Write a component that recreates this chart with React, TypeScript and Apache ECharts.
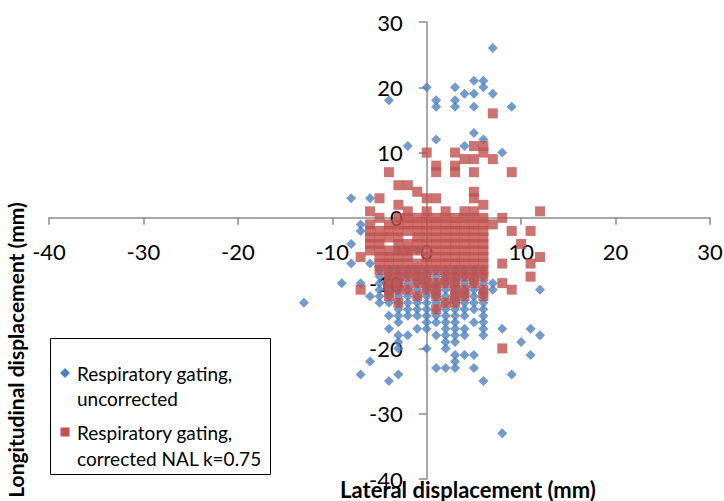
import React, { useEffect, useRef } from "react";
import * as echarts from "echarts";

// ---------- data ----------
const xTicks = [-40, -30, -20, -10, 0, 10, 20, 30];
const yTicks = [-40, -30, -20, -10, 0, 10, 20, 30];

const seriesNames = [
  "Respiratory gating,\nuncorrected",
  "Respiratory gating,\ncorrected NAL k=0.75",
];

// scattered points and rows of the dense core: [y, xs]
const uncorrectedOutliers: [number, number][] = [
  [7, 26], [0, 20], [3, 20], [5, 21], [6, 21], [4, 19], [5, 19], [6, 20], [7, 19],
  [1, 18], [1, 17], [3, 18], [3, 17], [5, 17], [9, 17], [-4, 18], [5, 13], [1, 12],
  [6, 12], [4, 11], [-2, 11], [8, 10], [-8, 3], [-6, 3],
  [-7, -1], [-7, -2], [-8, -4], [-8, -7], [-6, -7], [-9, -10], [-7, -10], [-6, -12],
  [-5, -12], [-13, -13], [-3, -5], [-2, -5], [-1, -5],
];
const uncorrectedRows: [number, number[]][] = [
  [-8, [-5, -4, -3, -2, -1, 0, 1, 2, 3, 4, 5, 6]],
  [-9, [-5, -4, -3, -2, -1, 0, 1, 2, 3, 4, 5, 6]],
  [-10, [-5, -4, -3, -2, -1, 0, 1, 2, 3, 4, 5, 6, 7]],
  [-11, [-5, -4, -3, -2, -1, 0, 1, 2, 3, 4, 5, 6, 7, 12]],
  [-12, [-4, -3, -2, -1, 0, 1, 2, 3, 4, 5, 6]],
  [-13, [-5, -4, -3, -2, -1, 0, 1, 2, 3, 4, 5, 6]],
  [-14, [-3, -2, -1, 0, 1, 2, 3, 4, 5, 6]],
  [-15, [-4, -3, -2, -1, 0, 1, 2, 3, 4, 6]],
  [-16, [-3, 0, 1, 2, 3, 5, 6]],
  [-17, [-4, -1, 0, 2, 3, 4, 6, 8, 11]],
  [-18, [-3, -2, 1, 2, 3, 4, 6, 12]],
  [-19, [-3, 2, 3, 10]],
  [-20, [-3, 0, 2]],
  [-21, [3, 4, 5, 11]],
  [-22, [-6, 3]],
  [-23, [1, 2, 3, 5]],
  [-24, [-7, -3, 9]],
  [-25, [-4, 6]],
  [-33, [8]],
];

const correctedOutliers: [number, number][] = [
  [7, 16], [0, 10], [3, 10], [5, 11], [6, 11], [6, 10], [4, 9], [5, 9], [7, 9],
  [1, 8], [3, 8], [1, 7], [3, 7], [5, 7], [9, 7], [-4, 7],
  [-3, 5], [-2, 5], [-1, 4], [-5, 3], [0, 3], [1, 3], [5, 4], [5, 3], [-3, 2], [6, 2],
  [-6, 1], [-2, 1], [0, 1], [2, 1], [4, 1], [5, 1], [12, 1],
  [-7, -6], [-7, -11], [8, -20],
];
const correctedRows: [number, number[]][] = [
  [0, [-5, -3, -2, -1, 0, 1, 2, 3, 4, 5, 6, 8]],
  [-1, [-6, -4, -3, -2, -1, 0, 1, 2, 3, 4, 5, 6, 7]],
  [-2, [-6, -5, -4, -3, -2, -1, 0, 1, 2, 3, 4, 5, 6, 9, 11]],
  [-3, [-6, -5, -4, -3, -1, 0, 1, 2, 3, 4, 5, 6]],
  [-4, [-6, -5, -3, -2, -1, 0, 1, 2, 3, 4, 5, 6, 10]],
  [-5, [-6, -5, -4, -3, -2, -1, 0, 1, 2, 3, 4, 5, 6]],
  [-6, [-5, -4, -3, -2, 0, 1, 2, 3, 4, 5, 6, 12]],
  [-7, [-5, -4, -3, -2, -1, 0, 1, 2, 3, 4, 5, 6, 8, 11]],
  [-8, [-5, -4, -3, -2, -1, 0, 1, 2, 3, 4, 5, 6]],
  [-9, [-4, -3, -2, -1, 0, 2, 3, 4, 5, 6, 11]],
  [-10, [-4, -3, -1, 0, 1, 2, 3, 5, 8]],
  [-11, [-4, -3, -2, 0, 1, 3, 4, 6, 9]],
  [-12, [-4, -1, 1, 3, 4, 6]],
  [-13, [-3, 2, 3]],
  [-14, [1]],
];

const expand = (outliers: [number, number][], rows: [number, number[]][]) => {
  const pts: [number, number][] = outliers.slice();
  rows.forEach(([y, xs]) => xs.forEach((x) => pts.push([x, y])));
  return pts;
};

const BLUE = "#4F81BD";
const RED = "#C0504D";
const AXIS = "#8C8C8C";
const FONT = "Lato, 'Open Sans', sans-serif";

// plot-area geometry (pixels)
const W = 724;
const H = 501;
const GRID = { left: 49, right: 14, top: 22, bottom: 22 };

export default function App() {
  const ref = useRef<HTMLDivElement>(null);
  useEffect(() => {
    if (!ref.current) return;
    const chart = echarts.init(ref.current, undefined, { renderer: "svg" });
    const plotW = W - GRID.left - GRID.right;
    const plotH = H - GRID.top - GRID.bottom;
    const xMin = xTicks[0];
    const xMax = xTicks[xTicks.length - 1];
    const yMin = yTicks[0];
    const yMax = yTicks[yTicks.length - 1];
    // move the axes so that they cross at (0, 0)
    const xAxisOffset = -((0 - yMin) / (yMax - yMin)) * plotH;
    const yAxisOffset = -((0 - xMin) / (xMax - xMin)) * plotW;
    const legendX = 50;
    const legendY = 338;
    chart.setOption({
      animation: false,
      backgroundColor: "#ffffff",
      grid: { ...GRID, containLabel: false, outerBoundsMode: "none" },
      xAxis: {
        type: "value",
        min: xMin,
        max: xMax,
        interval: 10,
        position: "bottom",
        offset: xAxisOffset,
        axisLine: { onZero: false, lineStyle: { color: AXIS, width: 1.5 } },
        axisTick: { show: true, inside: false, length: 7, lineStyle: { color: AXIS, width: 1.5 } },
        axisLabel: { color: "#000", fontSize: 22, fontFamily: FONT, margin: 23 },
        splitLine: { show: false },
      },
      yAxis: {
        type: "value",
        min: yMin,
        max: yMax,
        interval: 10,
        position: "left",
        offset: yAxisOffset,
        axisLine: { onZero: false, lineStyle: { color: AXIS, width: 1.5 } },
        axisTick: { show: true, inside: false, length: 8, lineStyle: { color: AXIS, width: 1.5 } },
        axisLabel: { color: "#000", fontSize: 22, fontFamily: FONT, margin: 24 },
        splitLine: { show: false },
      },
      series: [
        {
          name: seriesNames[0],
          type: "scatter",
          symbol: "diamond",
          symbolSize: 10,
          itemStyle: { color: BLUE },
          data: expand(uncorrectedOutliers, uncorrectedRows),
          z: 2,
        },
        {
          name: seriesNames[1],
          type: "scatter",
          symbol: "rect",
          symbolSize: 10,
          itemStyle: { color: RED },
          data: expand(correctedOutliers, correctedRows),
          z: 3,
        },
      ],
      graphic: [
        {
          type: "text",
          x: 468,
          y: 489,
          style: {
            text: "Lateral displacement (mm)",
            fontSize: 22,
            fontWeight: "bold",
            fontFamily: FONT,
            fill: "#000",
            align: "center",
            verticalAlign: "middle",
          },
          z: 10,
        },
        {
          type: "text",
          x: 15,
          y: 350,
          rotation: Math.PI / 2,
          style: {
            text: "Longitudinal displacement (mm)",
            fontSize: 21,
            fontWeight: "bold",
            fontFamily: FONT,
            fill: "#000",
            align: "center",
            verticalAlign: "middle",
          },
          z: 10,
        },
        {
          type: "group",
          x: legendX,
          y: legendY,
          z: 20,
          children: [
            {
              type: "rect",
              shape: { x: 0.5, y: 0.5, width: 220, height: 136 },
              style: { fill: "#fff", stroke: "#000", lineWidth: 1 },
            },
            {
              type: "polygon",
              shape: { points: [[15, 30], [20, 35], [15, 40], [10, 35]] },
              style: { fill: BLUE },
            },
            {
              type: "text",
              x: 27,
              y: 35,
              style: { text: "Respiratory gating,", fontSize: 19, fontFamily: FONT, fill: "#000", verticalAlign: "middle" },
            },
            {
              type: "text",
              x: 27,
              y: 60,
              style: { text: "uncorrected", fontSize: 19, fontFamily: FONT, fill: "#000", verticalAlign: "middle" },
            },
            {
              type: "rect",
              shape: { x: 10.5, y: 89.5, width: 9, height: 9 },
              style: { fill: RED },
            },
            {
              type: "text",
              x: 27,
              y: 94,
              style: { text: "Respiratory gating,", fontSize: 19, fontFamily: FONT, fill: "#000", verticalAlign: "middle" },
            },
            {
              type: "text",
              x: 27,
              y: 120,
              style: { text: "corrected NAL k=0.75", fontSize: 19, fontFamily: FONT, fill: "#000", verticalAlign: "middle" },
            },
          ],
        },
      ],
    });
    return () => chart.dispose();
  }, []);
  return (
    <div
      ref={ref}
      style={{ position: "fixed", left: 0, top: 0, width: W, height: H, background: "#fff" }}
    />
  );
}
